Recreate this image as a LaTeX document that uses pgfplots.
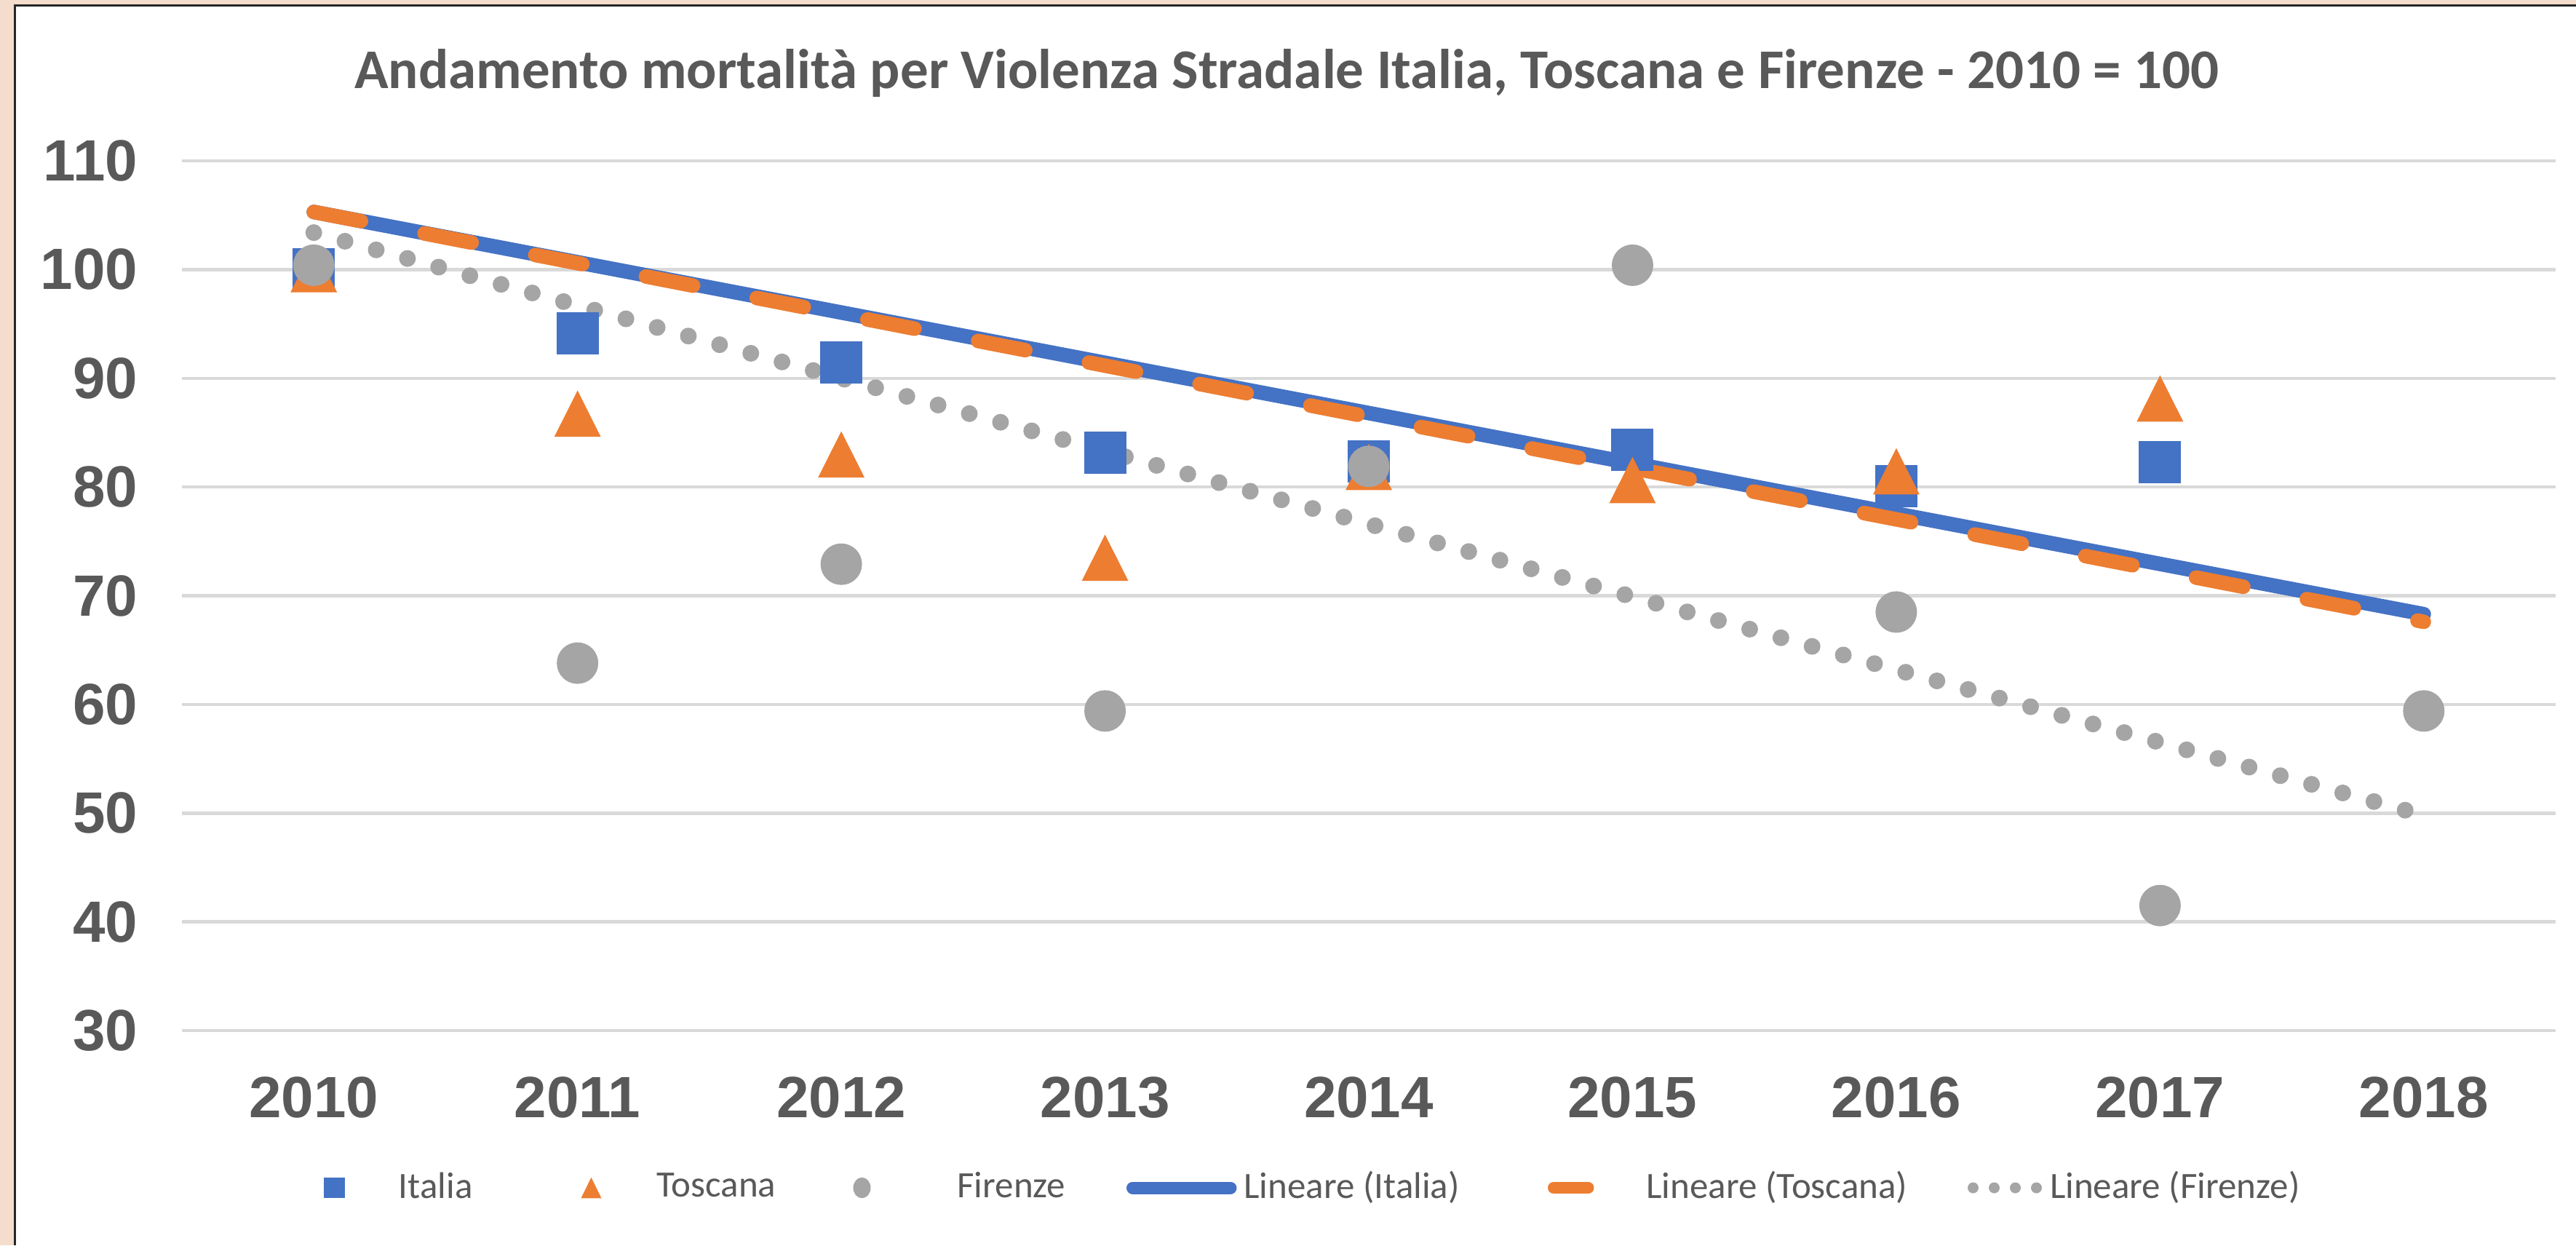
\documentclass[border=0pt]{standalone}
\usepackage{pgfplots}
\pgfplotsset{compat=1.18}
\usepackage{fontspec}
\setmainfont{Liberation Sans}
\newfontfamily\carlito{Carlito}
\definecolor{ita}{HTML}{4472C4}
\definecolor{tos}{HTML}{ED7D31}
\definecolor{fir}{HTML}{A5A5A5}
\definecolor{txt}{HTML}{595959}
\definecolor{gridc}{HTML}{D9D9D9}
\definecolor{beige}{HTML}{F4DDCC}
\definecolor{frame}{HTML}{262626}

\pgfplotstableread{
x ita tos fir
0 100   100   100.4
1 94.15 86.7  63.8
2 91.45 82.95 72.9
3 83.15 73.45 59.4
4 82.35 81.8  81.9
5 83.4  80.6  100.4
6 80.05 81.4  68.5
7 82.3  88.1  41.5
}\datatab
\pgfplotstableread{
x fir
8 59.4
}\firlast

\begin{document}
\begin{tikzpicture}[x=1pt,y=1pt]
\useasboundingbox (0,0) rectangle (708,342.2);
\fill[beige] (0,0) rectangle (708,342.2);
\fill[white] (4.1,0) rectangle (708,340.7);
\draw[frame,line width=0.7pt] (4.1,0) -- (4.1,340.7) -- (708,340.7);
\begin{axis}[
  at={(50pt,59pt)}, anchor=south west,
  width=652.4pt, height=239pt, scale only axis,
  xmin=-0.5, xmax=8.5, ymin=30, ymax=110,
  xtick={0,...,8}, xticklabels={2010,2011,2012,2013,2014,2015,2016,2017,2018},
  ytick={30,40,...,110},
  axis line style={draw=none}, tick style={draw=none},
  ymajorgrids, grid style={gridc, line width=0.9pt},
  clip=false,
  ticklabel style={font=\bfseries\fontsize{16}{19}\selectfont, text=txt},
  /pgf/number format/assume math mode=true,
  xticklabel style={anchor=center, yshift=-18.4pt},
  yticklabel style={anchor=east, inner sep=0pt, xshift=-12pt},
  title={Andamento mortalità per Violenza Stradale Italia, Toscana e Firenze - 2010 = 100},
  title style={at={(0.4654,1)}, anchor=center, yshift=18pt, inner sep=0pt,
    font=\carlito\bfseries\fontsize{15.4}{18}\selectfont, text=txt},
  legend style={at={(0.04445,-0.1808)}, anchor=west, draw=none, fill=none,
    inner sep=0pt, outer sep=0pt, column sep=0pt,
    cells={inner sep=0pt, outer sep=0pt},
    font=\carlito\fontsize{10.2}{12}\selectfont, text=txt},
  legend columns=6,
  legend cell align=left,
]
% data points
\addplot[only marks, mark=square*, mark size=5.6pt, color=ita, forget plot] table[x=x,y=ita] {\datatab};
\addplot[only marks, mark=triangle*, mark size=7pt, mark options={yshift=-2pt, yscale=1.15}, color=tos, forget plot] table[x=x,y=tos] {\datatab};
\addplot[only marks, mark=*, mark size=5.5pt, color=fir, forget plot] table[x=x,y=fir] {\datatab};
\addplot[only marks, mark=*, mark size=5.5pt, color=fir, forget plot] table[x=x,y=fir] {\firlast};
% trend lines
\addplot[ita, line width=4pt, line cap=round, forget plot] coordinates {(0,105.3) (8,68.3)};
\addplot[tos, line width=4pt, line cap=round, dash pattern=on 13.2pt off 17.8pt, forget plot] coordinates {(0,105.3) (8,67.6)};
\addplot[fir, line width=4.6pt, line cap=round, dash pattern=on 0pt off 8.9pt, forget plot] coordinates {(0,103.4) (8,49.8)};
% legend
\addlegendimage{legend image code/.code={\path[draw=none,fill=none] (0pt,-3pt) rectangle (28.6pt,3pt); \fill[ita, draw=none] (10.1pt,-2.85pt) rectangle (15.8pt,2.85pt);}}
\addlegendentry{\makebox[18.3pt][l]{Italia}}
\addlegendimage{legend image code/.code={\path[draw=none,fill=none] (0pt,-3pt) rectangle (48.6pt,3pt); \fill[tos, draw=none] (29.8pt,-2.85pt) -- (35.4pt,-2.85pt) -- (32.6pt,2.85pt) -- cycle;}}
\addlegendentry{\makebox[28.7pt][l]{Toscana}}
\addlegendimage{legend image code/.code={\path[draw=none,fill=none] (0pt,-3pt) rectangle (49.9pt,3pt); \fill[fir, draw=none] (25.7pt,0pt) ellipse (2.4pt and 2.85pt);}}
\addlegendentry{\makebox[27.4pt][l]{Firenze}}
\addlegendimage{legend image code/.code={\path[draw=none,fill=none] (0pt,-3pt) rectangle (46.3pt,3pt); \draw[ita, line width=3.4pt, line cap=round] (18.8pt,0pt) -- (45.7pt,0pt);}}
\addlegendentry{\makebox[58pt][l]{Lineare (Italia)}}
\addlegendimage{legend image code/.code={\path[draw=none,fill=none] (0pt,-3pt) rectangle (48.6pt,3pt); \draw[tos, line width=3.2pt, line cap=round] (25.1pt,0pt) -- (34.6pt,0pt);}}
\addlegendentry{\makebox[70.2pt][l]{Lineare (Toscana)}}
\addlegendimage{legend image code/.code={\path[draw=none,fill=none] (0pt,-3pt) rectangle (34.6pt,3pt); \draw[fir, line width=3pt, line cap=round, dash pattern=on 0pt off 5.8pt] (17.6pt,0pt) -- (35.2pt,0pt);}}
\addlegendentry{\makebox[77.9pt][l]{Lineare (Firenze)}}
\end{axis}
\end{tikzpicture}
\end{document}
